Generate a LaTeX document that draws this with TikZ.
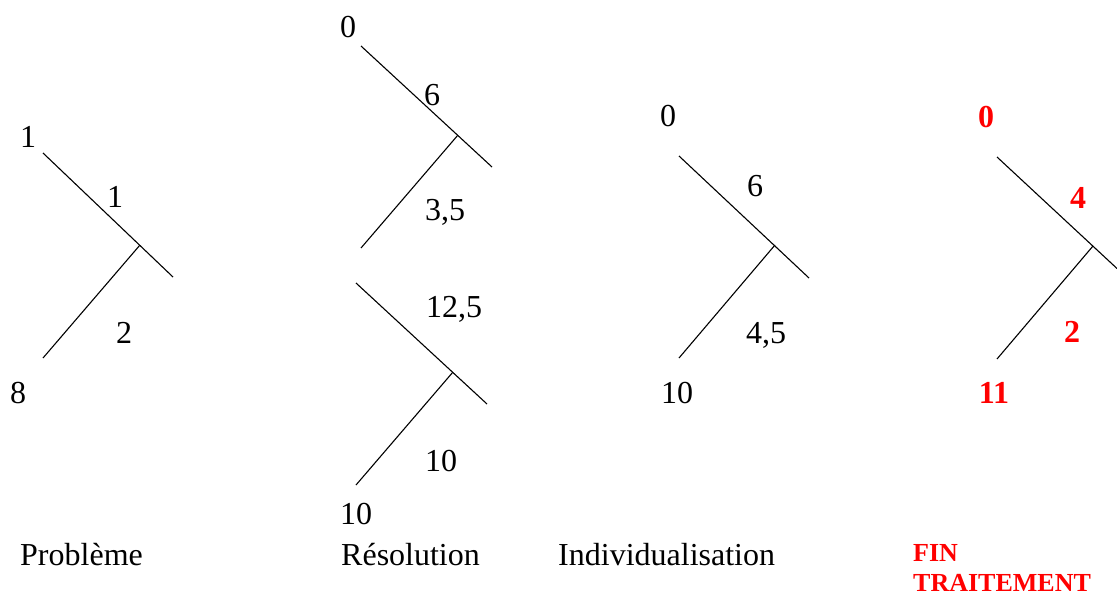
\documentclass[tikz,border=0pt]{standalone}
\usepackage{fontspec}
\setmainfont{Liberation Serif}
\usetikzlibrary{positioning}

\begin{document}
\begin{tikzpicture}[x=1pt, y=-1pt,
        branch/.style={line width=1.1pt},
        val/.style={font=\fontsize{32}{36}\selectfont, inner sep=0pt},
        redval/.style={val, text=red, font=\fontsize{32}{36}\selectfont\bfseries},
        title/.style={font=\fontsize{32}{36}\selectfont, inner sep=0pt, anchor=base west},
        redtitle/.style={font=\fontsize{26}{30}\selectfont\bfseries, text=red, inner sep=0pt, anchor=base west}]

        % Page size of the reference
        \useasboundingbox (0,0) rectangle (1117,595);

        % Probleme tree
        \coordinate (pbTop) at (43,153);
        \coordinate (pbEnd) at (173,277);
        \coordinate (pbJoin) at (140,245);
        \coordinate (pbBot) at (43,358);
        \draw[branch] (pbTop) -- (pbEnd);
        \draw[branch] (pbJoin) -- (pbBot);
        \node[val] (pbA) at (28,137) {1};
        \node[val] (pbB) at (115,197) {1};
        \node[val] (pbC) at (124,333) {2};
        \node[val] (pbD) at (18,393) {8};

        % Resolution, upper tree
        \coordinate (rsTop) at (361,46);
        \coordinate (rsEnd) at (492,167);
        \coordinate (rsJoin) at (458,135);
        \coordinate (rsBot) at (361,248);
        \draw[branch] (rsTop) -- (rsEnd);
        \draw[branch] (rsJoin) -- (rsBot);
        \node[val] (rsA) at (348,27) {0};
        \node[val] (rsB) at (432,95) {6};
        \node[val] (rsC) at (445,212) {3,5};

        % Resolution, lower tree
        \coordinate (rlTop) at (356,283);
        \coordinate (rlEnd) at (487,404);
        \coordinate (rlJoin) at (453,372);
        \coordinate (rlBot) at (356,485);
        \draw[branch] (rlTop) -- (rlEnd);
        \draw[branch] (rlJoin) -- (rlBot);
        \node[val] (rlA) at (454,309) {12,5};
        \node[val] (rlB) at (441,461) {10};
        \node[val] (rlC) at (356,514) {10};

        % Individualisation tree
        \coordinate (inTop) at (679,156);
        \coordinate (inEnd) at (809,278);
        \coordinate (inJoin) at (775,245);
        \coordinate (inBot) at (679,358);
        \draw[branch] (inTop) -- (inEnd);
        \draw[branch] (inJoin) -- (inBot);
        \node[val] (inA) at (668,116) {0};
        \node[val] (inB) at (755,186) {6};
        \node[val] (inC) at (766,335) {4,5};
        \node[val] (inD) at (677,393) {10};

        % Fin traitement tree (cut by the right edge)
        \coordinate (ftTop) at (997,157);
        \coordinate (ftEnd) at (1117,268.5);
        \coordinate (ftJoin) at (1093,246);
        \coordinate (ftBot) at (997,359);
        \draw[branch] (ftTop) -- (ftEnd);
        \draw[branch] (ftJoin) -- (ftBot);
        \node[redval] (ftA) at (986,117) {0};
        \node[redval] (ftB) at (1078,198) {4};
        \node[redval] (ftC) at (1072,332) {2};
        \node[redval] (ftD) at (994,393) {11};

        % Step names
        \node[title] (probleme) at (20,565) {Problème};
        \node[title] (resolution) at (341,565) {Résolution};
        \node[title] (individu) at (558,565) {Individualisation};
        \node[redtitle] (fin) at (913,561) {FIN};
        \node[redtitle] (traitement) at (913,591) {TRAITEMENT};

    \end{tikzpicture}
\end{document}
